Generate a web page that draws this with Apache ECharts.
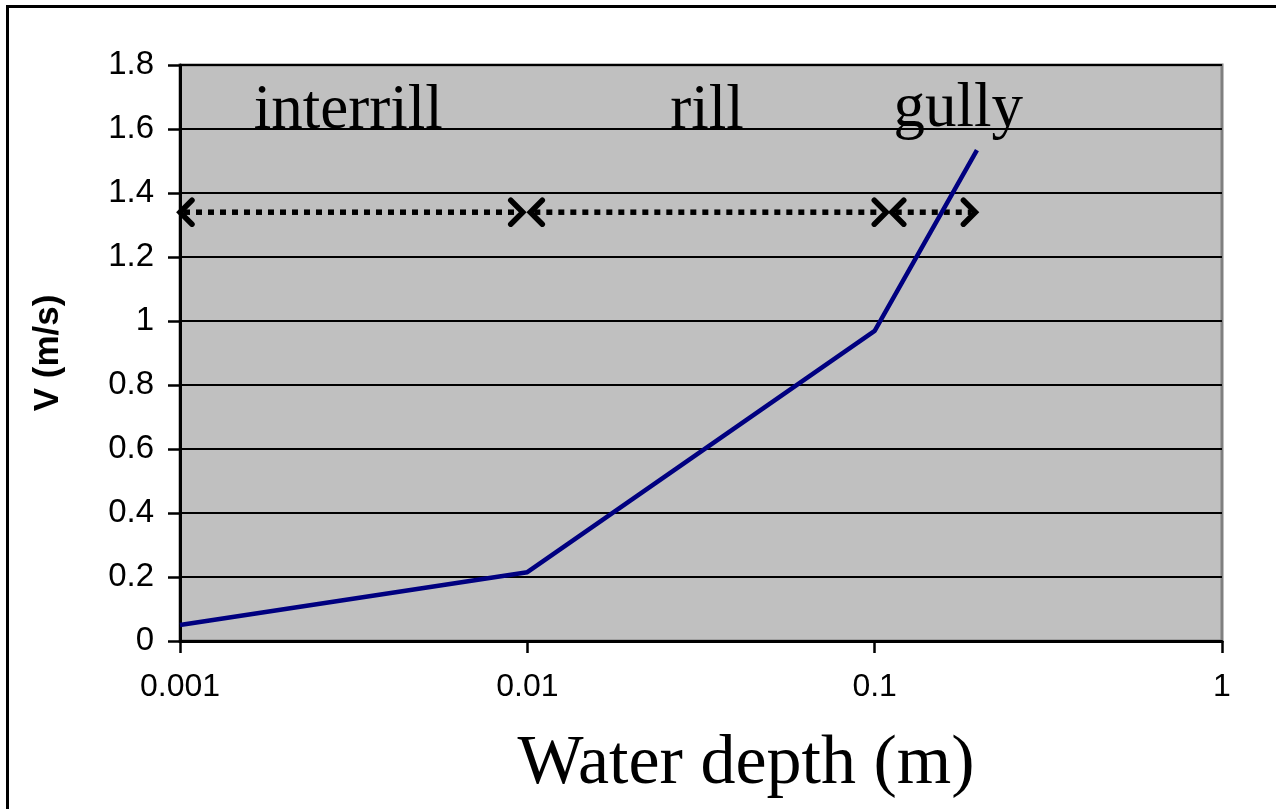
<!DOCTYPE html>
<html>
<head>
<meta charset="utf-8">
<script src="https://cdn.jsdelivr.net/npm/echarts@6/dist/echarts.min.js"></script>
<style>
  html, body { margin: 0; padding: 0; background: #fff; }
  #frame { position: absolute; left: 6px; top: 5px; width: 2000px; height: 2000px;
           border-left: 3px solid #000; border-top: 3px solid #000; box-sizing: border-box; }
  #chart { position: absolute; left: 0; top: 0; width: 1276px; height: 809px; }
</style>
</head>
<body>
<div id="frame"></div>
<div id="chart"></div>
<script>
// ---- data ----
const depth = [0.001, 0.01, 0.1, 0.197];          // water depth (m)
const velocity = [0.05, 0.215, 0.969, 1.534];      // V (m/s)

const regionNames = ['interrill', 'rill', 'gully'];
const regionX = [0.00305, 0.0329, 0.174];
const regionY = [1.655, 1.655, 1.66];

const arrowStart = [0.001, 0.0102, 0.112];
const arrowEnd = [0.0097, 0.108, 0.195];
const arrowY = [1.34, 1.34, 1.34];

const xTickLabels = ['0.001', '0.01', '0.1', '1'];
const yMin = 0, yMax = 1.8, yStep = 0.2;

// ---- build ----
const lineData = depth.map((d, i) => [d, velocity[i]]);
const arrowData = arrowStart.map((s, i) => [s, arrowEnd[i], arrowY[i]]);
const labelData = regionX.map((x, i) => [x, regionY[i]]);

const chart = echarts.init(document.getElementById('chart'), null, { renderer: 'canvas' });

const option = {
  animation: false,
  grid: {
    left: 180, right: 54, top: 65, bottom: 168,
    show: true, backgroundColor: '#C0C0C0', borderColor: '#808080', borderWidth: 3
  },
  title: {
    text: 'Water depth (m)',
    left: 741, top: 725, textAlign: 'center',
    textStyle: { fontFamily: 'Liberation Serif', fontSize: 70, fontWeight: 'normal', color: '#000' }
  },
  xAxis: {
    type: 'log', logBase: 10, min: 0.001, max: 1,
    axisLine: { show: true, onZero: false, lineStyle: { color: '#000', width: 3 } },
    axisTick: { show: true, length: 12, lineStyle: { color: '#000', width: 2.5 } },
    minorTick: { show: false },
    splitLine: { show: false },
    axisLabel: {
      margin: 30, color: '#000', fontFamily: 'Liberation Sans', fontSize: 32,
      formatter: v => xTickLabels[Math.round(Math.log10(v)) + 3]
    }
  },
  yAxis: {
    type: 'value', min: yMin, max: yMax, interval: yStep,
    name: 'V (m/s)', nameLocation: 'middle', nameGap: 114,
    nameTextStyle: { fontFamily: 'Liberation Sans', fontWeight: 'bold', fontSize: 35, color: '#000' },
    axisLine: { show: true, lineStyle: { color: '#000', width: 3 } },
    axisTick: { show: true, length: 12, lineStyle: { color: '#000', width: 2.5 } },
    splitLine: { show: true, lineStyle: { color: '#000', width: 2 } },
    axisLabel: {
      margin: 26, color: '#000', fontFamily: 'Liberation Sans', fontSize: 33,
      formatter: v => String(Math.round(v * 10) / 10)
    }
  },
  series: [
    {
      type: 'custom',
      name: 'ranges',
      data: arrowData,
      encode: { x: [0, 1], y: 2 },
      clip: false,
      z: 3,
      renderItem: function (params, api) {
        const p1 = api.coord([api.value(0), api.value(2)]);
        const p2 = api.coord([api.value(1), api.value(2)]);
        const h = 12;
        const stroke = { stroke: '#000', lineWidth: 5.5, lineCap: 'round', lineJoin: 'miter', fill: null };
        return {
          type: 'group',
          children: [
            { type: 'line', shape: { x1: p1[0] + 4, y1: p1[1], x2: p2[0] - 4, y2: p2[1] },
              style: { stroke: '#000', lineWidth: 5.5, lineDash: [6, 6], lineCap: 'butt' } },
            { type: 'polyline', shape: { points: [[p1[0] + h, p1[1] - h], [p1[0], p1[1]], [p1[0] + h, p1[1] + h]] },
              style: stroke },
            { type: 'polyline', shape: { points: [[p2[0] - h, p2[1] - h], [p2[0], p2[1]], [p2[0] - h, p2[1] + h]] },
              style: stroke }
          ]
        };
      }
    },
    {
      type: 'custom',
      name: 'labels',
      data: labelData,
      encode: { x: 0, y: 1 },
      clip: false,
      z: 3,
      renderItem: function (params, api) {
        const p = api.coord([api.value(0), api.value(1)]);
        return {
          type: 'text',
          x: p[0], y: p[1],
          style: {
            text: regionNames[params.dataIndex],
            fontFamily: 'Liberation Serif', fontSize: 63, fill: '#000',
            textAlign: 'center', textVerticalAlign: 'middle'
          }
        };
      }
    },
    {
      type: 'line',
      name: 'V',
      data: lineData,
      symbol: 'none',
      z: 5,
      lineStyle: { color: '#000080', width: 4.5 }
    }
  ]
};
chart.setOption(option);
</script>
</body>
</html>
